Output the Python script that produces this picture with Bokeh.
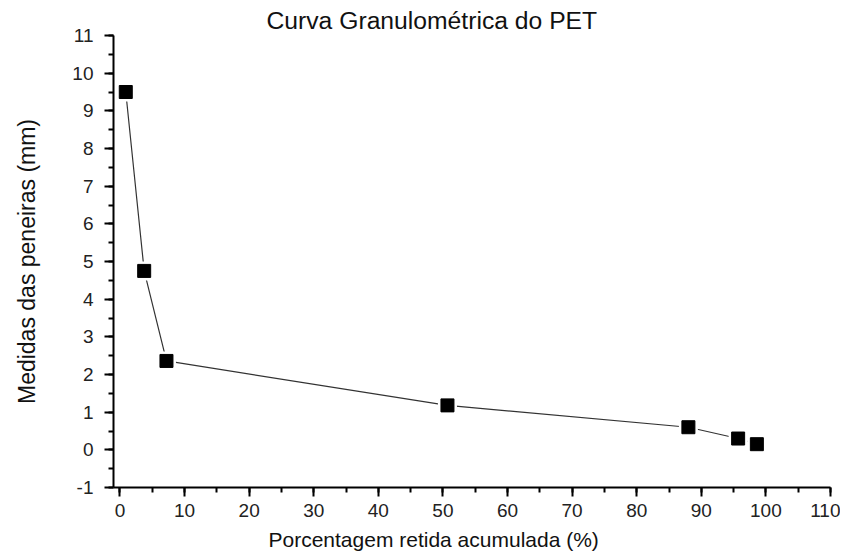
from bokeh.plotting import figure
from bokeh.models import SingleIntervalTicker, Range1d, ColumnDataSource, PrintfTickFormatter, Title
from bokeh.embed import file_html
from bokeh.resources import INLINE

# Data
retida_acumulada = [0.9, 3.75, 7.2, 50.7, 88.0, 95.7, 98.6]   # %
abertura_peneira = [9.5, 4.75, 2.36, 1.18, 0.6, 0.3, 0.15]    # mm

title_text = "Curva Granulométrica do PET"
x_label = "Porcentagem retida acumulada (%)"
y_label = "Medidas das peneiras (mm)"

FONT = "Liberation Sans"

src = ColumnDataSource(dict(x=retida_acumulada, y=abertura_peneira))

p = figure(width=840, height=558, output_backend="svg", toolbar_location=None,
           x_range=Range1d(-1, 110), y_range=Range1d(-1, 11),
           min_border_left=113, min_border_right=10, min_border_top=35, min_border_bottom=71)

p.title.text = title_text
p.title.align = "left"
p.title.offset = 153
p.title.text_font = FONT
p.title.text_font_size = "24.7px"
p.title.text_font_style = "normal"
p.title.text_color = "#111111"
p.title.standoff = 3

p.outline_line_color = None
p.xgrid.visible = False
p.ygrid.visible = False
p.background_fill_color = "white"
p.border_fill_color = "white"

p.xaxis.ticker = SingleIntervalTicker(interval=10, num_minor_ticks=2)
p.yaxis.ticker = SingleIntervalTicker(interval=1, num_minor_ticks=2)

for ax in (p.xaxis, p.yaxis):
    ax.formatter = PrintfTickFormatter(format="%d")
    ax.axis_line_width = 2
    ax.axis_line_color = "black"
    ax.major_tick_line_width = 2
    ax.major_tick_line_color = "black"
    ax.minor_tick_line_width = 2
    ax.minor_tick_line_color = "black"
    ax.major_tick_out = 9
    ax.major_tick_in = 0
    ax.minor_tick_out = 5
    ax.minor_tick_in = 0
    ax.major_label_text_font = FONT
    ax.major_label_text_font_size = "19px"
    ax.major_label_text_color = "#222222"
    ax.axis_label_text_font = FONT
    ax.axis_label_text_font_style = "normal"
    ax.axis_label_text_color = "#111111"

p.yaxis.axis_label = y_label
p.yaxis.axis_label_text_font_size = "23px"
p.xaxis.major_label_standoff = 7
p.yaxis.major_label_standoff = 11
p.yaxis.axis_label_standoff = 29

# x-axis label, slightly left of centre as in the reference
xlab = Title(text=x_label, align="left", offset=155, text_font=FONT,
             text_font_size="21px", text_font_style="normal", text_color="#111111",
             standoff=12)
p.add_layout(xlab, "below")

p.line("x", "y", source=src, line_color="#333333", line_width=1.2)
# white halo to create the small gaps between line and markers
p.scatter("x", "y", source=src, marker="square", size=19, fill_color="white", line_color=None)
p.scatter("x", "y", source=src, marker="square", size=13, fill_color="black", line_color="black")

open("out.html", "w").write(file_html(p, INLINE))
